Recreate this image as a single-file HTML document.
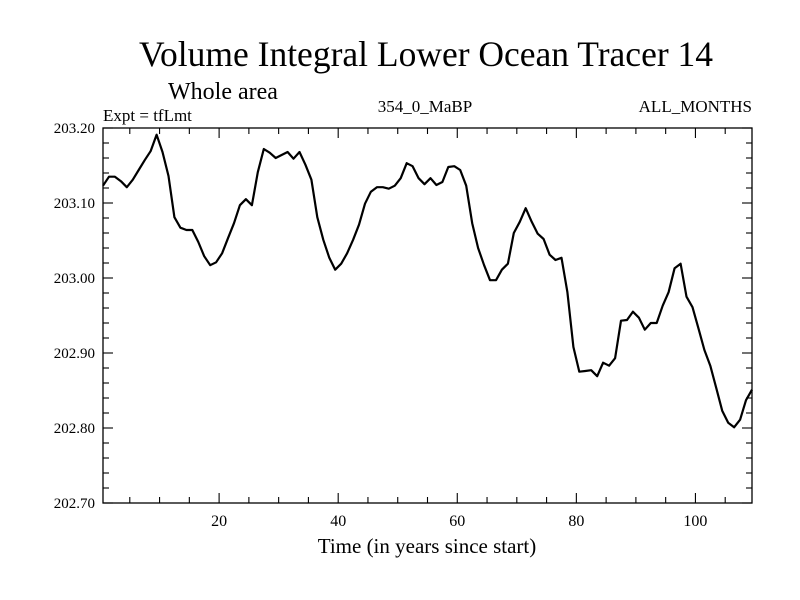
<!DOCTYPE html>
<html><head><meta charset="utf-8"><style>
html,body{margin:0;padding:0;background:#fff;}
svg{display:block;font-family:"Liberation Serif",serif;}
</style></head><body>
<svg id="chart" width="800" height="600" viewBox="0 0 800 600">
<text x="426" y="66" text-anchor="middle" font-size="35.5">Volume Integral Lower Ocean Tracer 14</text>
<text x="168" y="99" font-size="24">Whole area</text>
<text x="103" y="121" font-size="17">Expt = tfLmt</text>
<text x="425" y="112" text-anchor="middle" font-size="17">354_0_MaBP</text>
<text x="752" y="112" text-anchor="end" font-size="17">ALL_MONTHS</text>
<text x="427" y="553" text-anchor="middle" font-size="21">Time (in years since start)</text>
<g id="axes"></g>
<rect x="103" y="128" width="649" height="375" fill="none" stroke="#000" stroke-width="1.3"/>
<path id="line" fill="none" stroke="#000" stroke-width="2.2" stroke-linejoin="round"/>
</svg>
<script>
const values=[203.123,203.135,203.135,203.129,203.121,203.131,203.144,203.157,203.169,203.191,203.168,203.136,203.081,203.067,203.064,203.064,203.048,203.029,203.017,203.021,203.033,203.053,203.073,203.097,203.105,203.097,203.141,203.172,203.167,203.160,203.164,203.168,203.159,203.168,203.151,203.131,203.081,203.051,203.027,203.011,203.019,203.033,203.051,203.071,203.099,203.115,203.121,203.121,203.119,203.123,203.133,203.153,203.149,203.133,203.125,203.133,203.124,203.128,203.148,203.149,203.144,203.123,203.073,203.040,203.017,202.997,202.997,203.011,203.019,203.060,203.075,203.093,203.075,203.059,203.052,203.031,203.024,203.027,202.981,202.908,202.875,202.876,202.877,202.869,202.887,202.883,202.893,202.943,202.944,202.955,202.947,202.931,202.940,202.940,202.963,202.981,203.013,203.019,202.975,202.961,202.933,202.904,202.883,202.853,202.823,202.807,202.801,202.811,202.837,202.851];
const years=values.map((_,i)=>i+0.5);
const xTickLabels=[20,40,60,80,100];
const yTickLabels=[202.70,202.80,202.90,203.00,203.10,203.20];
const X0=103,X1=752,Y0=503,Y1=128,XMIN=0.5,XMAX=109.5,YMIN=202.7,YMAX=203.2;
const sx=v=>X0+(v-XMIN)/(XMAX-XMIN)*(X1-X0);
const sy=v=>Y0-(v-YMIN)/(YMAX-YMIN)*(Y0-Y1);
const NS="http://www.w3.org/2000/svg";
const g=document.getElementById('axes');
function ln(x1,y1,x2,y2){const l=document.createElementNS(NS,'line');l.setAttribute('x1',x1);l.setAttribute('y1',y1);l.setAttribute('x2',x2);l.setAttribute('y2',y2);l.setAttribute('stroke','#000');l.setAttribute('stroke-width','1.1');


g.appendChild(l);}
for(let t=5;t<XMAX;t+=5){const x=sx(t);const L=(t%20===0)?10:6;ln(x,Y0,x,Y0-L);ln(x,Y1,x,Y1+L);}
for(let k=0;k<=25;k++){const v=YMIN+k*0.02;const y=sy(v);const L=(k%5===0)?10:6;ln(X0,y,X0+L,y);ln(X1,y,X1-L,y);}
xTickLabels.forEach(v=>{const t=document.createElementNS(NS,'text');t.setAttribute('x',sx(v));t.setAttribute('y',Y0+23);t.setAttribute('text-anchor','middle');t.setAttribute('font-size','16');t.textContent=v;


g.appendChild(t);});
yTickLabels.forEach(v=>{const t=document.createElementNS(NS,'text');t.setAttribute('x',X0-8);t.setAttribute('y',sy(v)+5);t.setAttribute('text-anchor','end');t.setAttribute('font-size','15');t.textContent=v.toFixed(2);


g.appendChild(t);});
document.getElementById('line').setAttribute('d',values.map((v,i)=>(i?'L':'M')+sx(years[i]).toFixed(1)+','+sy(v).toFixed(1)).join(''));
</script>
</body></html>
